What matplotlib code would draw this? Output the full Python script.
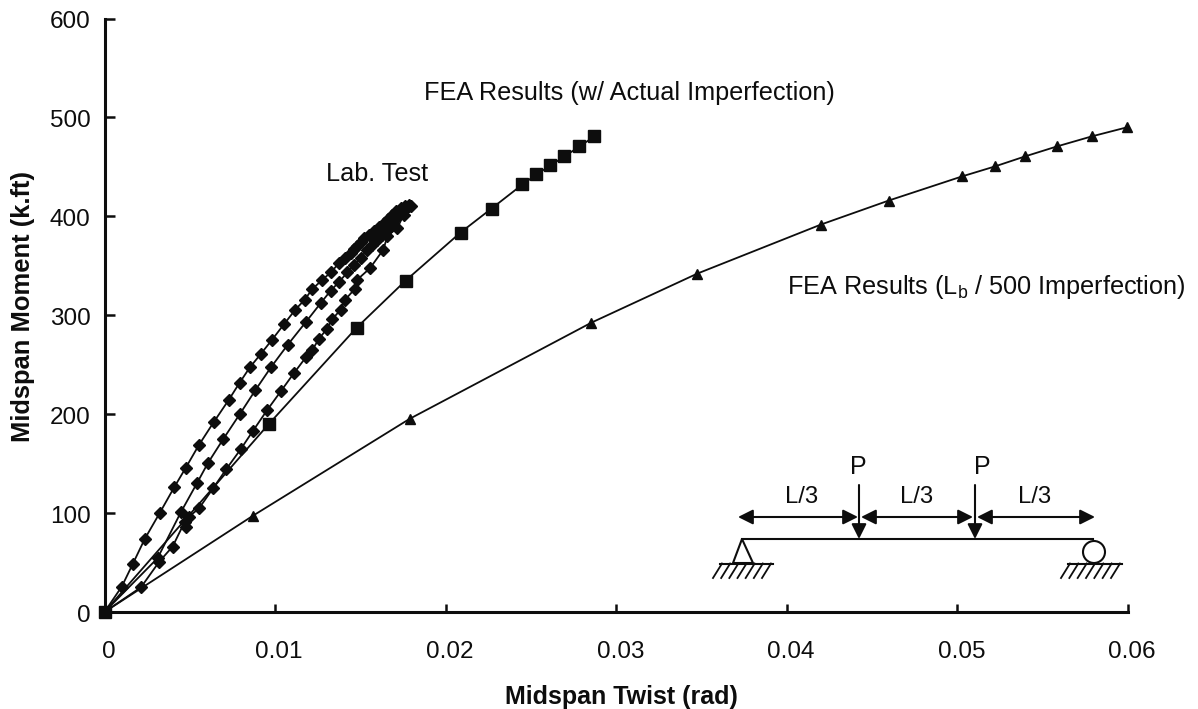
import matplotlib
matplotlib.use("Agg")
import matplotlib.pyplot as plt
from matplotlib.patches import Circle, Polygon
from matplotlib.transforms import ScaledTranslation

plt.rcParams['font.family'] = ['Liberation Sans', 'DejaVu Sans']
plt.rcParams['mathtext.default'] = 'regular'

# Lab test branches
lab1_x = [0, .00101, .00165, .00237, .00323, .00409, .00477, .00553, .00639, .00729, .00793, .00852, .00916,
          .00981, .01055, .01117, .01174, .01217, .01273, .0133, .01373, .01412, .01443, .01462, .01482, .01502,
          .01521, .0155, .0158, .0161, .01638, .0166, .01687, .0171, .01736, .0176, .01785]
lab1_y = [0, 25.6, 48.3, 74.2, 99.9, 126.2, 146, 168.7, 191.6, 214.6, 232, 247.3, 260.8,
          275, 291.5, 305.3, 315.8, 326.2, 335.3, 343.8, 352.5, 358, 363, 367, 370.4, 374,
          378.2, 381, 384.9, 389, 393.4, 397, 401.8, 405, 408.6, 410, 411]
lab2_x = [0, .00311, .00448, .00542, .00606, .00696, .00793, .00885, .00977, .01073, .01182, .01268, .01326,
          .01373, .01424, .01463, .01502, .01541, .0157, .016, .01625, .01648, .01668, .01687, .0171, .01736,
          .0176, .01785]
lab2_y = [0, 54.4, 101, 130.2, 150.5, 174.8, 200, 224.4, 247.7, 269.9, 293.5, 312.4, 324.9,
          333.3, 343.4, 351.2, 358, 366.4, 371, 376.5, 381, 384.9, 389, 393.4, 398, 403.5,
          407, 410.2]
lab3_x = [0, .00214, .00321, .00399, .0047, .00477, .00497, .00555, .00637, .00715, .00799, .00868, .00955, .01033,
          .01111, .0118, .01219, .01258, .01303, .01336, .01385, .01408, .01467, .01482, .01556, .01635, .01658,
          .01717, .01755, .01794]
lab3_y = [0, 25, 50.9, 66.1, 91, 86.3, 96.5, 105, 125.2, 144.7, 164.7, 182.5, 204.5, 223,
          241.6, 257.4, 265.2, 276.3, 286.1, 296.2, 305.7, 315.1, 326.6, 336, 347.5, 366.4, 379.9,
          388.4, 401.8, 410.2]
# FEA with actual imperfection
act_x = [0, .00963, .01478, .01765, .02087, .02269, .0245, .02532, .02614, .02696, .02784, .02872]
act_y = [0, 190, 287.4, 335, 383.6, 407.9, 432.2, 442.3, 451.4, 460.5, 470.6, 480.8]
# FEA with Lb/500 imperfection
lb_x = [0, .00869, .01789, .02854, .03475, .042, .04598, .05026, .05219, .05395, .05582, .05787, .05992]
lb_y = [0, 97.2, 195.3, 292.5, 342.1, 391.7, 416, 440.3, 450.4, 460.5, 470.6, 480.8, 489.9]

x_ticks = [0, .01, .02, .03, .04, .05, .06]
x_labels = ['0', '0.01', '0.02', '0.03', '0.04', '0.05', '0.06']
y_ticks = [0, 100, 200, 300, 400, 500, 600]

W, H = 1198, 709
INK = '#0d0d0d'
TICK_FS = 17.5
fig = plt.figure(figsize=(W / 100, H / 100), dpi=100, facecolor='white')
ax = fig.add_axes([104.5 / W, 1 - 612 / H, (1128 - 104.5) / W, (612 - 18.5) / H])
ax.set_xlim(0, .06)
ax.set_ylim(0, 600)
ax.patch.set_alpha(0)
for s in ('top', 'right'):
    ax.spines[s].set_visible(False)
for s in ('left', 'bottom'):
    ax.spines[s].set_linewidth(2.2)
    ax.spines[s].set_color(INK)

ax.set_xticks(x_ticks, x_labels)
ax.set_yticks(y_ticks)
ax.tick_params(axis='x', direction='in', length=6, width=1.8, pad=21, labelsize=TICK_FS, color=INK, labelcolor=INK)
ax.tick_params(axis='y', direction='in', length=7, width=1.8, pad=10, labelsize=TICK_FS, color=INK, labelcolor=INK)
xshift = ScaledTranslation(4 / 100, 0, fig.dpi_scale_trans)
for t in ax.get_xticklabels():
    t.set_transform(t.get_transform() + xshift)
yshift = ScaledTranslation(0, -1.5 / 100, fig.dpi_scale_trans)
for t in ax.get_yticklabels():
    t.set_transform(t.get_transform() + yshift)

for xs, ys in ((lab1_x, lab1_y), (lab2_x, lab2_y), (lab3_x, lab3_y)):
    ax.plot(xs, ys, '-D', color=INK, lw=1.3, ms=6, clip_on=False, zorder=3)
ax.plot(act_x, act_y, '-s', color=INK, lw=1.3, ms=8, clip_on=False, zorder=3)
ax.plot(lb_x, lb_y, '-^', color=INK, lw=1.3, ms=7.5, clip_on=False, zorder=3)

# Overlay in pixel coordinates for annotations and the beam sketch
ov = fig.add_axes([0, 0, 1, 1])
ov.set_xlim(0, W)
ov.set_ylim(H, 0)
ov.axis('off')
ov.patch.set_alpha(0)

def label(x, y, s, **kw):
    kw.setdefault('fontsize', 18)
    ov.text(x, y, s, ha='center', va='center', color=INK, **kw)

label(629, 93, 'FEA Results (w/ Actual Imperfection)', fontsize=18.2)
label(377, 174, 'Lab. Test', fontsize=18.2)
label(986, 287, 'FEA Results (L$_{b}$ / 500 Imperfection)', fontsize=18.2)
label(621, 697, 'Midspan Twist (rad)', fontweight='bold')
label(23, 307, 'Midspan Moment (k.ft)', fontweight='bold', fontsize=18.4, rotation=90)
label(858, 467, 'P', fontsize=18)
label(982, 467, 'P', fontsize=18)
label(802, 497, 'L/3', fontsize=17.2)
label(917, 497, 'L/3', fontsize=17.2)
label(1035, 497, 'L/3', fontsize=17.2)

ov.plot([742, 1093], [539, 539], color=INK, lw=1.5)
arrow = dict(arrowstyle='-|>,head_length=0.5,head_width=0.25', color=INK, lw=1.5,
             mutation_scale=18, shrinkA=0, shrinkB=0)
for xp in (859, 975):
    ov.annotate('', xy=(xp, 539), xytext=(xp, 485), arrowprops=arrow)
for a, b in ((799, 738), (799, 858), (917, 861), (917, 973), (1036, 977), (1036, 1095)):
    ov.annotate('', xy=(b, 517), xytext=(a, 517), arrowprops=arrow)
ov.add_patch(Polygon([(742, 539), (733, 563), (753, 563)], closed=True, fill=False, ec=INK, lw=1.5))
ov.add_patch(Circle((1094, 552), 11, fill=False, ec=INK, lw=1.5))
for x0, x1 in ((720, 773), (1068, 1122)):
    ov.plot([x0, x1], [563.5, 563.5], color=INK, lw=1.5)
    for i in range(7):
        tx = x0 + 2 + i * (x1 - x0 - 4) / 6
        ov.plot([tx, tx - 9], [563.5, 578], color=INK, lw=1.3)

fig.savefig('out.png', dpi=100, facecolor='white')
